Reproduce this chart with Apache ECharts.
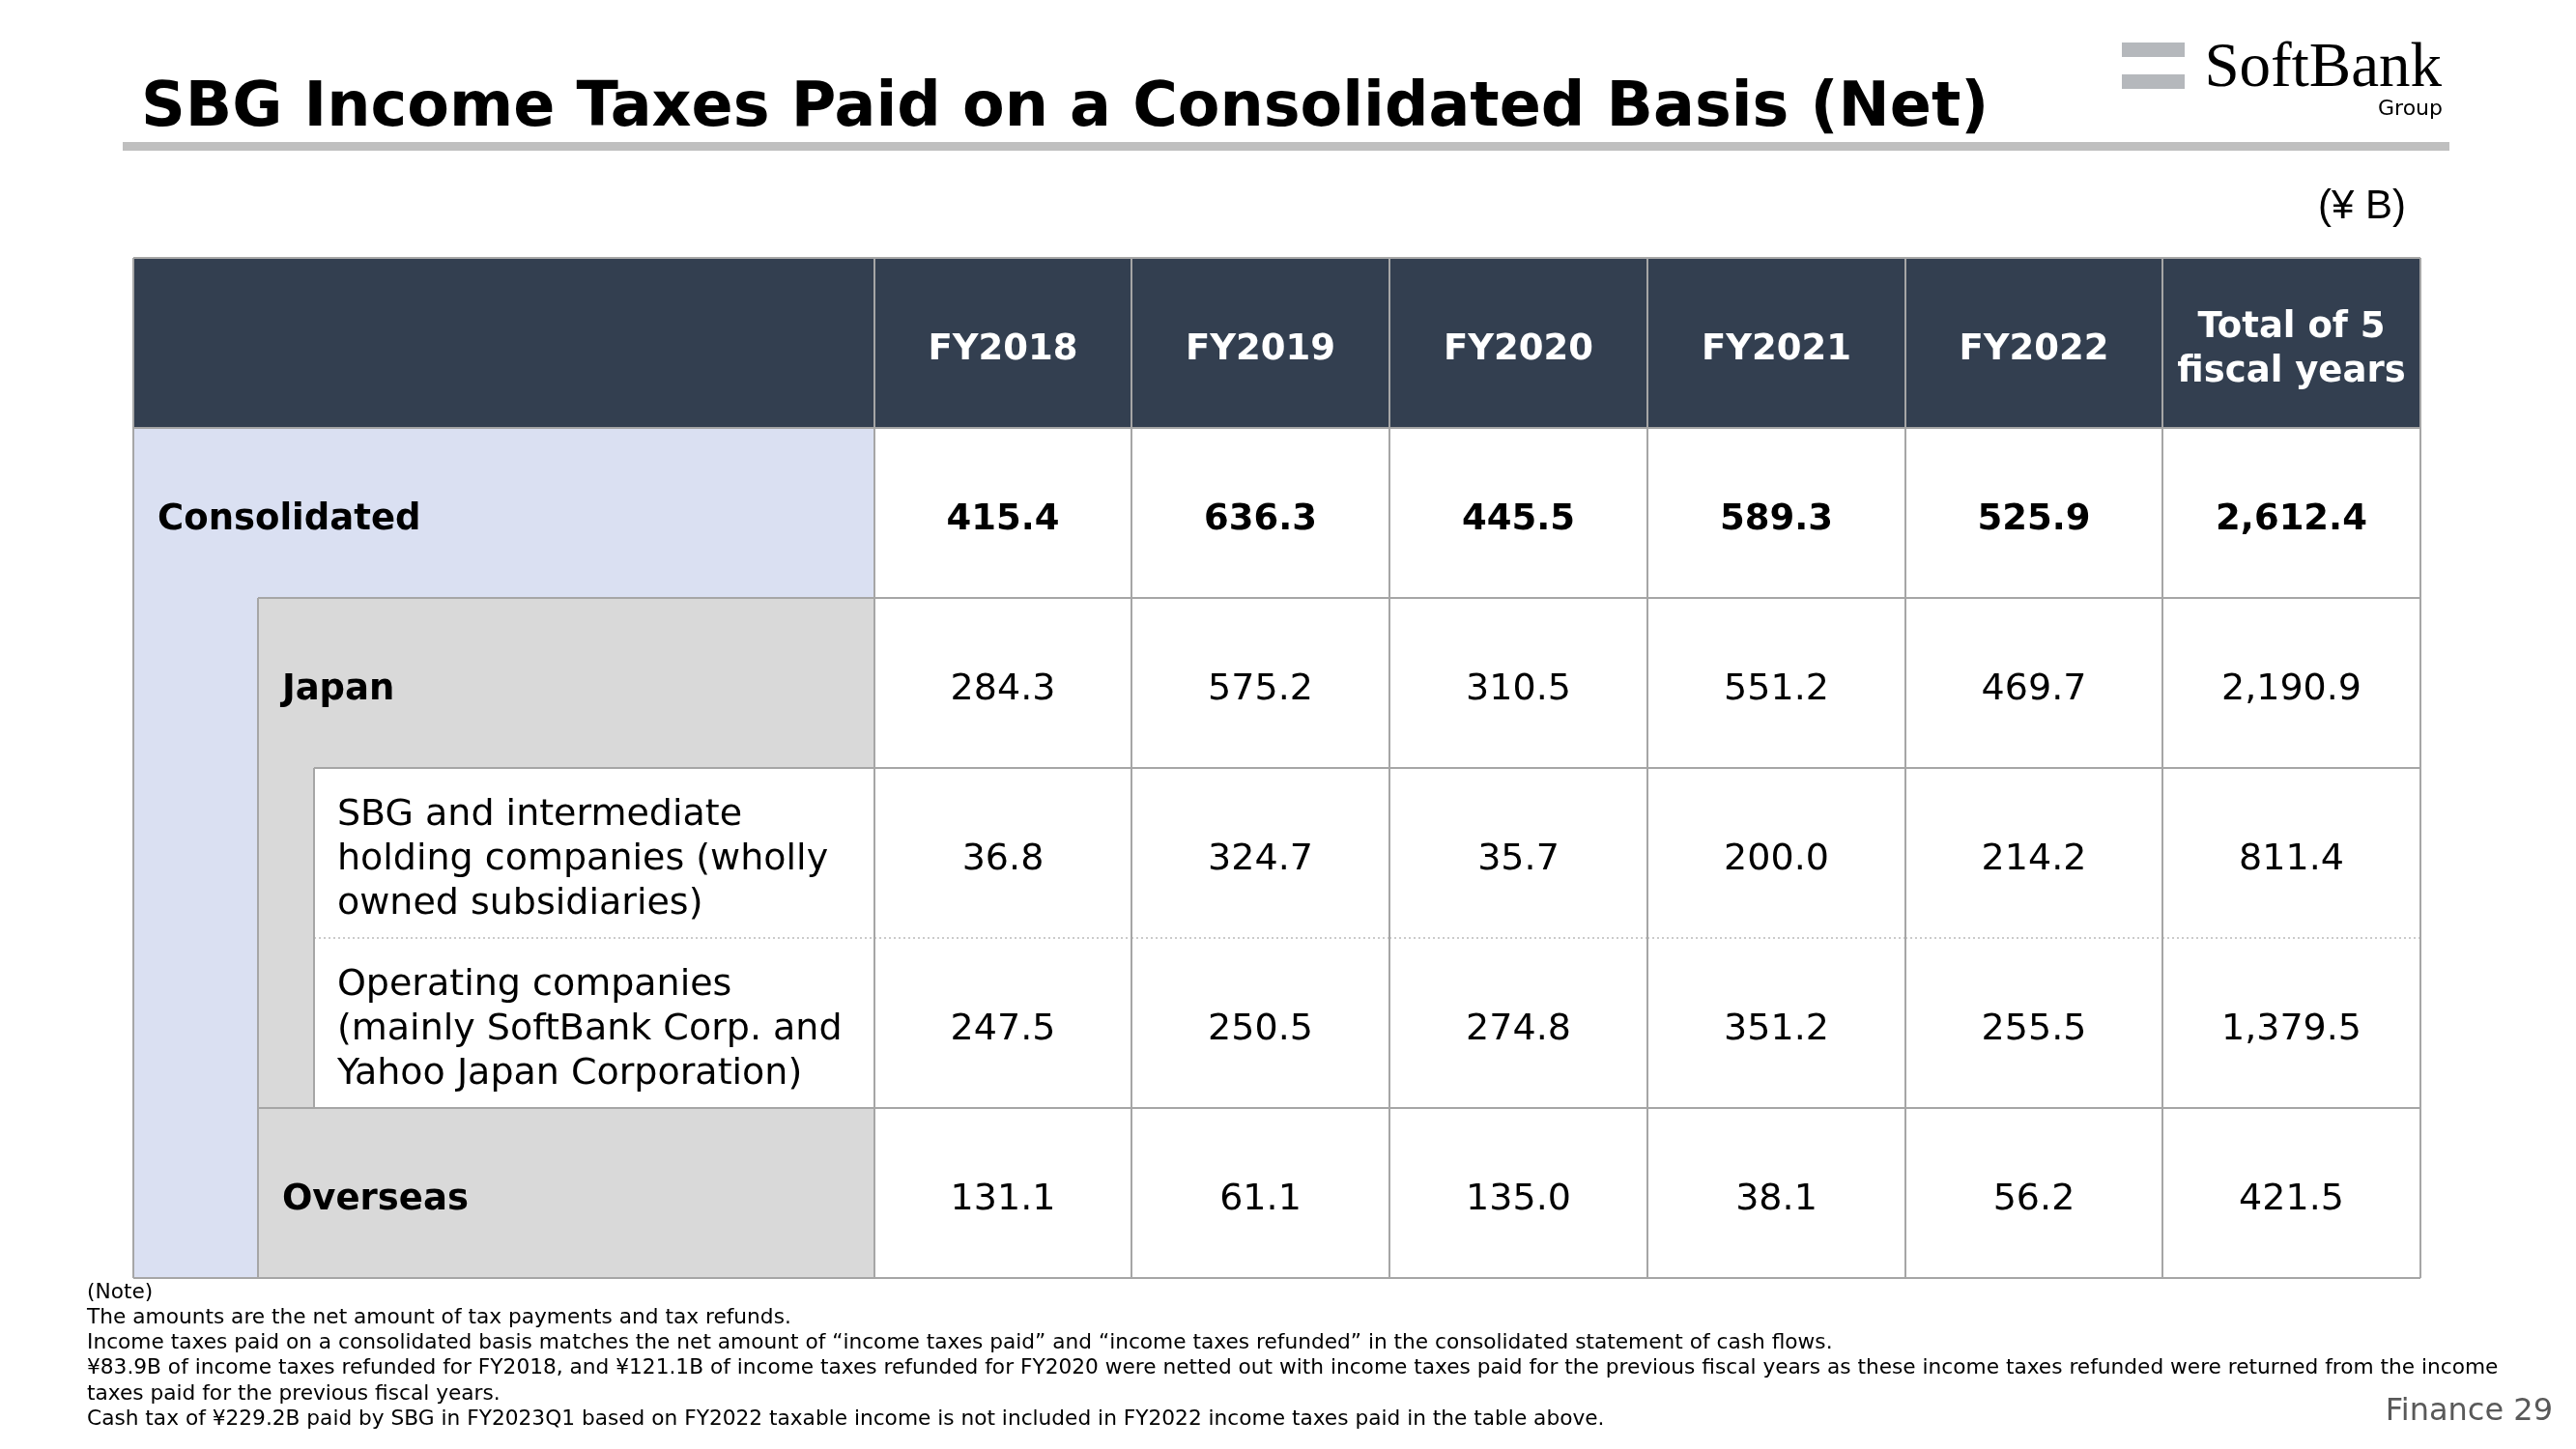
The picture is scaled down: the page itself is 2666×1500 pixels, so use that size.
<!DOCTYPE html>
<html>
<head>
<meta charset="utf-8">
<script src="https://cdn.jsdelivr.net/npm/echarts@6/dist/echarts.min.js"></script>
<style>
html,body{margin:0;padding:0;background:#fff;}
#chart{width:2666px;height:1500px;}
</style>
</head>
<body>
<div id="chart"></div>
<script>
// ---- data ----
const columns = ['FY2018', 'FY2019', 'FY2020', 'FY2021', 'FY2022', 'Total of 5\nfiscal years'];
const rowLabels = [
  'Consolidated',
  'Japan',
  'SBG and intermediate\nholding companies (wholly\nowned subsidiaries)',
  'Operating companies\n(mainly SoftBank Corp. and\nYahoo Japan Corporation)',
  'Overseas'
];
const rowLevels = [0, 1, 2, 2, 1];
const consolidated = [415.4, 636.3, 445.5, 589.3, 525.9, 2612.4];
const japan = [284.3, 575.2, 310.5, 551.2, 469.7, 2190.9];
const sbgHolding = [36.8, 324.7, 35.7, 200.0, 214.2, 811.4];
const operating = [247.5, 250.5, 274.8, 351.2, 255.5, 1379.5];
const overseas = [131.1, 61.1, 135.0, 38.1, 56.2, 421.5];
const rowValues = [consolidated, japan, sbgHolding, operating, overseas];
const titleText = 'SBG Income Taxes Paid on a Consolidated Basis (Net)';
const unitText = '(¥ B)';
const noteLines = [
  '(Note)',
  'The amounts are the net amount of tax payments and tax refunds.',
  'Income taxes paid on a consolidated basis matches the net amount of \u201cincome taxes paid\u201d and \u201cincome taxes refunded\u201d in the consolidated statement of cash flows.',
  '¥83.9B of income taxes refunded for FY2018, and ¥121.1B of income taxes refunded for FY2020 were netted out with income taxes paid for the previous fiscal years as these income taxes refunded were returned from the income',
  'taxes paid for the previous fiscal years.',
  'Cash tax of ¥229.2B paid by SBG in FY2023Q1 based on FY2022 taxable income is not included in FY2022 income taxes paid in the table above.'
];
const pageLabel = 'Finance 29';

// ---- styles ----
const FONT = '"DejaVu Sans", Verdana, sans-serif';
const DARK = '#333f50';
const BLUE = '#dae0f2';
const GRAY = '#d9d9d9';
const LINE = '#a6a6a6';
const LABEL_W = 2.875;            // label column width in column units
const LEFT = -LABEL_W;
const IND1 = LEFT + 0.4837;
const IND2 = LEFT + 0.701;
const TEXT_OFF = [0.094, 0.577, 0.791];
const TEXT_DY = 7;
const S = 'solid', D = 'dot';

function fmt(v) {
  return v.toLocaleString('en-US', {minimumFractionDigits: 1, maximumFractionDigits: 1});
}

// ---- build cell list (structure) ----
const cells = [];
cells.push({x0: LEFT, x1: 0, y0: 0, y1: 1, fill: DARK, b: {t: S, b: S, l: S, r: S}});
columns.forEach((c, i) => cells.push({
  x0: i, x1: i + 1, y0: 0, y1: 1, fill: DARK, text: c, color: '#ffffff', bold: true,
  align: 'center', b: {t: S, b: S, l: S, r: S}
}));
rowLabels.forEach((lab, r) => {
  const y0 = r + 1, y1 = r + 2, lv = rowLevels[r];
  const bold = lv < 2;
  const last = r === rowLabels.length - 1;
  if (lv === 0) {
    cells.push({x0: LEFT, x1: 0, y0, y1, fill: BLUE, text: lab, bold, tx: LEFT + TEXT_OFF[0], align: 'left', b: {l: S, r: S, t: S}});
  } else if (lv === 1) {
    cells.push({x0: LEFT, x1: IND1, y0, y1, fill: BLUE, b: {l: S, b: last ? S : null}});
    cells.push({x0: IND1, x1: 0, y0, y1, fill: GRAY, text: lab, bold, tx: LEFT + TEXT_OFF[1], align: 'left',
      b: {t: S, l: S, r: S, b: last ? S : null}});
  } else {
    const first = rowLevels[r - 1] !== 2;
    cells.push({x0: LEFT, x1: IND1, y0, y1, fill: BLUE, b: {l: S}});
    cells.push({x0: IND1, x1: IND2, y0, y1, fill: GRAY, b: {l: S}});
    cells.push({x0: IND2, x1: 0, y0, y1, fill: '#ffffff', text: lab, bold, tx: LEFT + TEXT_OFF[2], align: 'left',
      b: {t: first ? S : D, b: first ? D : S, l: S, r: S}});
  }
  const vals = rowValues[r];
  const top = (lv === 2 && rowLevels[r - 1] === 2) ? D : S;
  const bot = (lv === 2 && rowLevels[r + 1] === 2) ? D : S;
  vals.forEach((v, i) => cells.push({
    x0: i, x1: i + 1, y0, y1, fill: '#ffffff', text: fmt(v), bold: r === 0, align: 'center',
    b: {t: top, b: bot, l: S, r: S}
  }));
});

function renderItem(params, api) {
  const c = cells[params.dataIndex];
  const p0 = api.coord([c.x0, c.y0]);
  const p1 = api.coord([c.x1, c.y1]);
  const X0 = Math.round(p0[0]), Y0 = Math.round(p0[1]);
  const X1 = Math.round(p1[0]), Y1 = Math.round(p1[1]);
  const ch = [];
  ch.push({type: 'rect', z2: 0, shape: {x: X0, y: Y0, width: X1 - X0, height: Y1 - Y0},
    style: {fill: c.fill, stroke: null}});
  const seg = (kind, x1, y1, x2, y2) => {
    if (!kind) return;
    ch.push({type: 'line', z2: kind === S ? 6 : 5, shape: {x1, y1, x2, y2},
      style: kind === S ? {stroke: LINE, lineWidth: 2}
                        : {stroke: '#c8c8c8', lineWidth: 1.5, lineDash: [2, 3]}});
  };
  seg(c.b.t, X0, Y0, X1, Y0);
  seg(c.b.b, X0, Y1, X1, Y1);
  seg(c.b.l, X0, Y0, X0, Y1);
  seg(c.b.r, X1, Y0, X1, Y1);
  if (c.text) {
    const tx = c.align === 'center' ? (X0 + X1) / 2 : api.coord([c.tx, c.y0])[0];
    ch.push({type: 'text', z2: 10, x: tx, y: (Y0 + Y1) / 2 + TEXT_DY,
      style: {text: c.text, fill: c.color || '#000000', fontFamily: FONT,
        fontSize: c.bold ? 37 : 38, fontWeight: c.bold ? 'bold' : 'normal',
        lineHeight: 46, align: c.align, verticalAlign: 'middle'}});
  }
  return {type: 'group', children: ch};
}

const chart = echarts.init(document.getElementById('chart'), null, {renderer: 'canvas'});
const option = {
  animation: false,
  backgroundColor: '#ffffff',
  grid: {left: 138, right: 161, top: 267, bottom: 177, containLabel: false},
  xAxis: {type: 'value', min: LEFT, max: columns.length, show: false},
  yAxis: {type: 'value', min: 0, max: rowLabels.length + 1, inverse: true, show: false},
  series: [{
    type: 'custom',
    renderItem: renderItem,
    data: cells.map(c => [c.x0, c.y0]),
    silent: true
  }],
  graphic: [
    {type: 'text', x: 146, y: 113, style: {text: titleText, fill: '#000', fontFamily: FONT,
      fontSize: 63.6, fontWeight: 'bold', align: 'left', verticalAlign: 'middle'}},
    {type: 'rect', shape: {x: 127, y: 147, width: 2408, height: 9}, style: {fill: '#bfbfbf'}},
    {type: 'rect', shape: {x: 2196, y: 44, width: 65, height: 15}, style: {fill: '#b5b8bc'}},
    {type: 'rect', shape: {x: 2196, y: 77, width: 65, height: 15}, style: {fill: '#b5b8bc'}},
    {type: 'text', x: 2527, y: 72, style: {text: 'SoftBank', fill: '#000', fontFamily: '"Liberation Serif", serif',
      fontSize: 65, align: 'right', verticalAlign: 'middle'}},
    {type: 'text', x: 2528, y: 113, style: {text: 'Group', fill: '#000', fontFamily: FONT,
      fontSize: 22, align: 'right', verticalAlign: 'middle'}},
    {type: 'text', x: 2490, y: 214, style: {text: unitText, fill: '#000', fontFamily: '"Liberation Sans", Arial, sans-serif',
      fontSize: 42, align: 'right', verticalAlign: 'middle'}},
    {type: 'text', x: 90, y: 1325, style: {text: noteLines.join('\n'), fill: '#000', fontFamily: FONT,
      fontSize: 21.7, lineHeight: 26.2, align: 'left', verticalAlign: 'top'}},
    {type: 'text', x: 2642, y: 1462, style: {text: pageLabel, fill: '#595959', fontFamily: FONT,
      fontSize: 32, align: 'right', verticalAlign: 'middle'}}
  ]
};
chart.setOption(option);
</script>
</body>
</html>
